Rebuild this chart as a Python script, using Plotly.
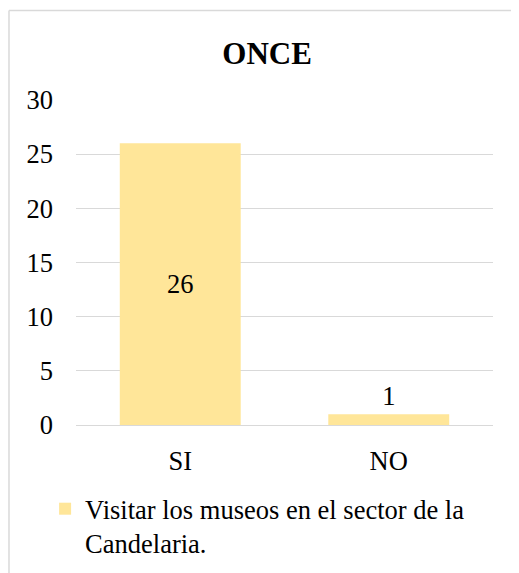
import plotly.graph_objects as go

# Data
categories = ["SI", "NO"]
values = [26, 1]
series_name = "Visitar los museos en el sector de la<br>Candelaria."
title_text = "ONCE"

bar_color = "#FFE699"
grid_color = "#D9D9D9"
font_family = "Times New Roman, Liberation Serif, serif"

fig = go.Figure()

fig.add_trace(go.Bar(
    x=categories,
    y=values,
    name=series_name,
    marker=dict(color=bar_color, line=dict(width=0)),
    text=[str(v) for v in values],
    textposition=["inside", "outside"],
    insidetextanchor="middle",
    textfont=dict(size=26.5, color="black", family=font_family),
    cliponaxis=False,
    showlegend=True,
))

# Chart border: only the left and top edges are inside the picture
fig.add_shape(type="line", xref="paper", yref="paper",
              x0=-0.1607, x1=-0.1607, y0=-0.6, y1=1.2754,
              line=dict(color=grid_color, width=1.5), layer="below")
fig.add_shape(type="line", xref="paper", yref="paper",
              x0=-0.1607, x1=1.15, y0=1.2754, y1=1.2754,
              line=dict(color=grid_color, width=1.5), layer="below")

# page body adds an 8px offset, so the figure is 8px smaller than the window
fig.update_layout(
    width=511,
    height=565,
    margin=dict(l=68, r=26, t=92, b=148, autoexpand=False),
    paper_bgcolor="white",
    plot_bgcolor="white",
    font=dict(family=font_family, size=26.5, color="black"),
    title=dict(
        text="<b>" + title_text + "</b>",
        x=0.507, xanchor="center",
        y=1 - 45 / 565, yanchor="middle",
        font=dict(size=31, family=font_family, color="black"),
    ),
    bargap=0.42,
    showlegend=True,
    legend=dict(
        orientation="h",
        xref="container", yref="container",
        x=0.0726, xanchor="left",
        y=0.1558, yanchor="top",
        font=dict(size=26.5, family=font_family, color="black"),
        itemwidth=30,
        valign="top",
        bgcolor="rgba(0,0,0,0)",
    ),
)

fig.update_yaxes(
    range=[0, 30],
    dtick=5,
    showgrid=True,
    gridcolor=grid_color,
    gridwidth=1.3,
    zeroline=False,
    showline=False,
    ticks="",
    ticklabelstandoff=22,
    tickfont=dict(size=26.5, family=font_family, color="black"),
)
fig.update_xaxes(
    showline=True,
    linecolor=grid_color,
    linewidth=1.3,
    ticks="",
    ticklabelstandoff=12,
    tickfont=dict(size=26.5, family=font_family, color="black"),
)

fig.write_html("out.html")
